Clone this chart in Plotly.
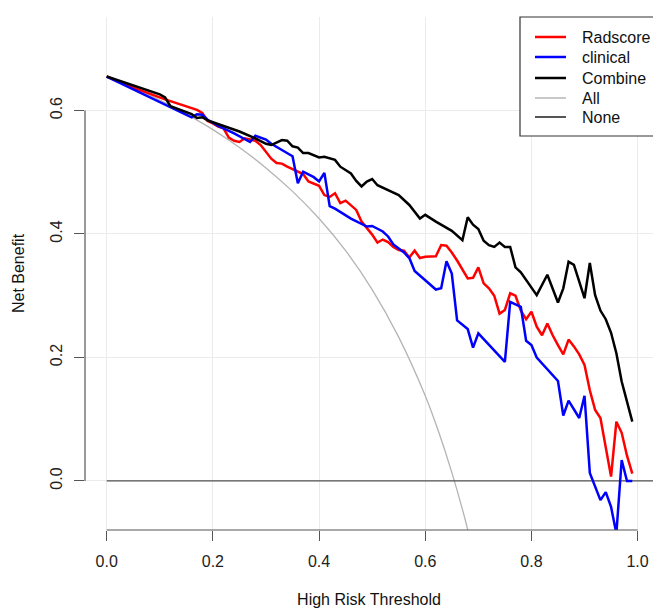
import plotly.graph_objects as go

# ---------------- data ----------------
rad_x = [0.00, 0.05, 0.11, 0.14, 0.17, 0.18, 0.19, 0.20, 0.21, 0.22, 0.23, 0.24, 0.25, 0.26, 0.28,
         0.29, 0.30, 0.31, 0.32, 0.33, 0.34, 0.36, 0.37, 0.38, 0.39, 0.40, 0.41, 0.42, 0.43, 0.44,
         0.45, 0.46, 0.47, 0.48, 0.49, 0.50, 0.51, 0.52, 0.53, 0.54, 0.55, 0.56, 0.57, 0.58, 0.59,
         0.60, 0.62, 0.63, 0.64, 0.65, 0.66, 0.67, 0.68, 0.69, 0.70, 0.71, 0.72, 0.73, 0.74, 0.75,
         0.76, 0.77, 0.78, 0.79, 0.80, 0.81, 0.82, 0.83, 0.84, 0.85, 0.86, 0.87, 0.88, 0.89, 0.90,
         0.91, 0.92, 0.93, 0.94, 0.95, 0.96, 0.97, 0.98, 0.99]
rad_y = [0.655, 0.637, 0.618, 0.610, 0.601, 0.596, 0.583, 0.579, 0.574, 0.571, 0.556, 0.551, 0.549, 0.555, 0.551,
         0.544, 0.533, 0.522, 0.515, 0.514, 0.509, 0.501, 0.497, 0.485, 0.481, 0.478, 0.463, 0.460, 0.466, 0.450,
         0.454, 0.447, 0.439, 0.420, 0.410, 0.399, 0.386, 0.391, 0.387, 0.379, 0.374, 0.373, 0.362, 0.373, 0.361,
         0.363, 0.364, 0.382, 0.381, 0.370, 0.357, 0.342, 0.328, 0.329, 0.346, 0.320, 0.312, 0.300, 0.271, 0.277,
         0.304, 0.300, 0.276, 0.262, 0.274, 0.250, 0.236, 0.255, 0.236, 0.220, 0.205, 0.229, 0.218, 0.205, 0.188,
         0.147, 0.115, 0.102, 0.055, 0.007, 0.096, 0.078, 0.041, 0.012]

cli_x = [0.00, 0.16, 0.17, 0.18, 0.19, 0.21, 0.24, 0.27, 0.28, 0.30, 0.31, 0.35, 0.36, 0.37, 0.39,
         0.40, 0.41, 0.42, 0.43, 0.46, 0.49, 0.50, 0.52, 0.53, 0.54, 0.56, 0.57, 0.58, 0.60, 0.62,
         0.63, 0.64, 0.65, 0.66, 0.68, 0.69, 0.70, 0.75, 0.76, 0.78, 0.79, 0.80, 0.81, 0.85, 0.86,
         0.87, 0.89, 0.90, 0.91, 0.93, 0.94, 0.95, 0.96, 0.97, 0.98, 0.99]
cli_y = [0.655, 0.589, 0.594, 0.593, 0.585, 0.575, 0.563, 0.549, 0.559, 0.553, 0.546, 0.526, 0.482, 0.501, 0.492,
         0.485, 0.499, 0.445, 0.441, 0.425, 0.412, 0.413, 0.404, 0.396, 0.383, 0.370, 0.361, 0.340, 0.325, 0.310,
         0.312, 0.356, 0.336, 0.260, 0.246, 0.216, 0.239, 0.193, 0.290, 0.282, 0.227, 0.220, 0.200, 0.162, 0.106,
         0.130, 0.102, 0.138, 0.013, -0.031, -0.018, -0.042, -0.085, 0.034, 0.000, 0.000]

com_x = [0.00, 0.05, 0.10, 0.11, 0.12, 0.16, 0.17, 0.18, 0.19, 0.20, 0.21, 0.23, 0.25, 0.28, 0.30,
         0.31, 0.33, 0.34, 0.35, 0.36, 0.37, 0.38, 0.39, 0.40, 0.41, 0.43, 0.44, 0.45, 0.46, 0.47,
         0.48, 0.49, 0.50, 0.51, 0.53, 0.55, 0.57, 0.59, 0.60, 0.62, 0.65, 0.67, 0.68, 0.69, 0.70,
         0.71, 0.72, 0.73, 0.74, 0.75, 0.76, 0.77, 0.78, 0.80, 0.81, 0.83, 0.85, 0.86, 0.87, 0.88,
         0.90, 0.91, 0.92, 0.93, 0.94, 0.95, 0.96, 0.97, 0.98, 0.99]
com_y = [0.655, 0.641, 0.626, 0.621, 0.607, 0.594, 0.588, 0.589, 0.584, 0.581, 0.578, 0.571, 0.566, 0.555, 0.546,
         0.544, 0.552, 0.551, 0.542, 0.540, 0.531, 0.531, 0.528, 0.524, 0.525, 0.520, 0.509, 0.504, 0.498, 0.486,
         0.477, 0.485, 0.489, 0.479, 0.471, 0.463, 0.447, 0.425, 0.431, 0.420, 0.405, 0.390, 0.427, 0.415, 0.408,
         0.389, 0.382, 0.379, 0.386, 0.379, 0.379, 0.346, 0.338, 0.312, 0.301, 0.334, 0.289, 0.312, 0.355, 0.350,
         0.296, 0.353, 0.301, 0.276, 0.262, 0.240, 0.207, 0.161, 0.128, 0.096]

all_x = [0.00, 0.05, 0.10, 0.15, 0.20, 0.25, 0.30, 0.35, 0.40, 0.45, 0.50, 0.55, 0.60, 0.625, 0.65, 0.675, 0.70]
all_y = [0.655, 0.637, 0.617, 0.594, 0.569, 0.540, 0.507, 0.469, 0.425, 0.373, 0.310, 0.233, 0.138, 0.080, 0.014, -0.062, -0.150]

none_x = [0.00, 1.10]
none_y = [0.0, 0.0]

x_ticks = [0.0, 0.2, 0.4, 0.6, 0.8, 1.0]
x_tick_labels = ["0.0", "0.2", "0.4", "0.6", "0.8", "1.0"]
y_ticks = [0.0, 0.2, 0.4, 0.6]
y_tick_labels = ["0.0", "0.2", "0.4", "0.6"]

legend_names = ["Radscore", "clinical", "Combine", "All", "None"]
legend_colors = ["#ff0000", "#0000ff", "#000000", "#c8c8c8", "#555555"]
legend_widths = [2.5, 2.5, 2.5, 2.0, 2.0]

FONT = "Liberation Sans, Arial, sans-serif"

fig = go.Figure()
# reference curves first (underneath)
fig.add_trace(go.Scatter(x=all_x, y=all_y, mode="lines", name="All", line_shape="spline",
                         line=dict(color="#b4b4b4", width=1.3), showlegend=False))
fig.add_trace(go.Scatter(x=none_x, y=none_y, mode="lines", name="None",
                         line=dict(color="#505050", width=1.3), showlegend=False))
fig.add_trace(go.Scatter(x=rad_x, y=rad_y, mode="lines", name="Radscore",
                         line=dict(color="#ff0000", width=2.5), showlegend=False))
fig.add_trace(go.Scatter(x=cli_x, y=cli_y, mode="lines", name="clinical",
                         line=dict(color="#0000ff", width=2.5), showlegend=False))
fig.add_trace(go.Scatter(x=com_x, y=com_y, mode="lines", name="Combine",
                         line=dict(color="#000000", width=2.5), showlegend=False))

# plot geometry in pixels (for the R-style legend box)
L, T, W, H = 85, 17, 568, 513
def px_x(p):
    return (p - L) / W
def px_y(p):
    return (T + H - p) / H

shapes = [
    # R-style axis lines spanning only the tick range
    dict(type="line", xref="x", yref="paper", x0=0, x1=1, y0=0, y1=0,
         line=dict(color="#555555", width=1.2)),
    dict(type="line", xref="paper", yref="y", x0=0, x1=0, y0=0, y1=0.6,
         line=dict(color="#555555", width=1.2)),
    # legend box (extends past the right edge as in the reference)
    dict(type="rect", xref="paper", yref="paper", x0=px_x(520), x1=px_x(680),
         y0=px_y(136), y1=px_y(17), line=dict(color="#333333", width=1.2),
         fillcolor="white", layer="above"),
]
annotations = []
row_y = [37, 57, 78, 98, 117]
for name, col, wd, ry in zip(legend_names, legend_colors, legend_widths, row_y):
    shapes.append(dict(type="line", xref="paper", yref="paper", x0=px_x(535), x1=px_x(566),
                       y0=px_y(ry), y1=px_y(ry), line=dict(color=col, width=wd)))
    annotations.append(dict(text=name, xref="paper", yref="paper", x=px_x(580), y=px_y(ry),
                            xanchor="left", yanchor="middle", showarrow=False,
                            font=dict(family=FONT, size=16, color="#111111")))

fig.update_layout(
    width=653, height=608,
    margin=dict(l=L, r=0, t=T, b=608 - T - H),
    paper_bgcolor="white", plot_bgcolor="white",
    font=dict(family=FONT, size=16, color="#222222"),
    showlegend=False,
    xaxis=dict(range=[-0.0409, 1.029], tickvals=x_ticks, ticktext=x_tick_labels,
               showgrid=True, gridcolor="#ebebeb", gridwidth=1, zeroline=False,
               showline=False, ticks="outside", ticklen=10, tickcolor="#555555",
               tickwidth=1, ticklabelstandoff=7,
               title=dict(text="High Risk Threshold", standoff=25,
                          font=dict(family=FONT, size=16, color="#111111"))),
    yaxis=dict(range=[-0.0794, 0.7514], tickvals=y_ticks, ticktext=y_tick_labels,
               showgrid=True, gridcolor="#ebebeb", gridwidth=1, zeroline=False,
               showline=False, ticks="outside", ticklen=10, tickcolor="#555555",
               tickwidth=1, tickangle=-90, ticklabelstandoff=6,
               title=dict(text="Net Benefit", standoff=18,
                          font=dict(family=FONT, size=16, color="#111111"))),
    shapes=shapes,
    annotations=annotations,
)

fig.write_html("out.html")
